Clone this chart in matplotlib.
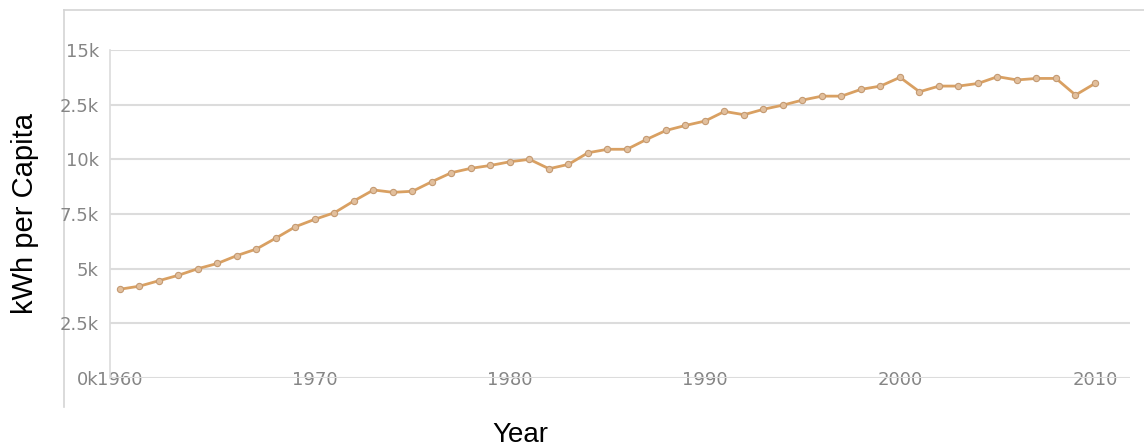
import numpy as np
import matplotlib
matplotlib.use("Agg")
import matplotlib.pyplot as plt

# data (kWh per capita)
years = list(range(1960, 2011))
kwh = [4060, 4200, 4450, 4700, 5000, 5240, 5600, 5900, 6400, 6920,
       7260, 7560, 8100, 8600, 8490, 8540, 8980, 9390, 9590, 9720,
       9890, 10000, 9570, 9770, 10300, 10460, 10460, 10910, 11320, 11550,
       11750, 12190, 12040, 12290, 12480, 12710, 12890, 12890, 13200, 13350,
       13750, 13090, 13350, 13350, 13470, 13780, 13630, 13700, 13700, 12940,
       13470]

ytick_vals = [0, 2500, 5000, 7500, 10000, 12500, 15000]
ytick_labels = ['0k', '2.5k', '5k', '7.5k', '10k', '2.5k', '15k']
xtick_vals = [1960, 1970, 1980, 1990, 2000, 2010]

W, H = 1144, 447
fig = plt.figure(figsize=(W / 100, H / 100), dpi=100)

# outer light frame (top and left edges only)
frame = fig.add_axes([64 / W, 1 - 407 / H, (W - 64) / W, (407 - 10) / H])
frame.set_xticks([])
frame.set_yticks([])
for s in ['right', 'bottom']:
    frame.spines[s].set_visible(False)
for s in ['top', 'left']:
    frame.spines[s].set_color('#d4d4d4')
    frame.spines[s].set_linewidth(1.2)
frame.patch.set_alpha(0)

ax = fig.add_axes([110 / W, 1 - 378 / H, (1130 - 110) / W, (378 - 50) / H])
ax.patch.set_alpha(0)
ax.plot(years, kwh, color='#d9a062', lw=2, marker='o', markersize=4.5,
        markerfacecolor='#e2bf9c', markeredgecolor='#c49a72', markeredgewidth=0.8,
        zorder=3, clip_on=False)

ax.set_xlim(1960 - 10 / 19.5, 2010 + 35 / 19.5)
ax.set_ylim(0, 15000)
ax.set_yticks(ytick_vals)
ax.set_yticklabels(ytick_labels)
ax.set_xticks(xtick_vals)
ax.set_xticklabels([str(v) for v in xtick_vals])
ax.grid(axis='y', color='#dcdcdc', lw=1.5)
ax.set_axisbelow(True)
for s in ['top', 'right', 'bottom']:
    ax.spines[s].set_visible(False)
ax.spines['left'].set_color('#dcdcdc')
ax.spines['left'].set_linewidth(1.2)

ax.tick_params(axis='both', length=0, labelsize=13, labelcolor='#858585')
ax.tick_params(axis='y', pad=8)
ax.tick_params(axis='x', pad=-5)
for lab in ax.get_xticklabels():
    lab.set_bbox(dict(facecolor='white', edgecolor='none', pad=1))
    lab.set_zorder(5)

fig.text(25 / W, 1 - 213 / H, 'kWh per Capita', rotation=90, ha='center',
         va='center', fontsize=21, family='Liberation Sans', color='black')
fig.text(520 / W, 1 - 435 / H, 'Year', ha='center', va='center',
         fontsize=20, family='Liberation Sans', color='black')

fig.savefig('out.png', dpi=100)
